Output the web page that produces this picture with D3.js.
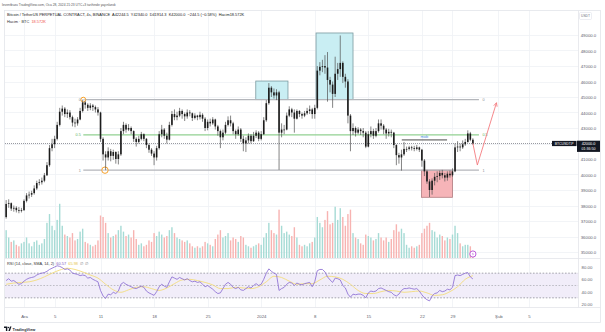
<!DOCTYPE html>
<html>
<head>
<meta charset="utf-8">
<script src="https://cdn.jsdelivr.net/npm/d3@7"></script>
<style>
  html, body { margin: 0; padding: 0; background: #fff; }
  svg { display: block; font-family: "Liberation Sans", Arial, sans-serif; }
</style>
</head>
<body>
<svg id="chart" width="605" height="332"></svg>
<script>
// ---- Data: BTCUSDT.P, 8-hour candles starting 28 Nov 2023 16:00 ----
const firstCandle = "2023-11-28T16:00";
const candleHours = 8;
const firstOpen = 37250;

const closes = [
  38100,
  38150, 37800, 37850,  37700, 37650, 37700,
  38300, 38650, 38700,  38800, 39100, 39450,  39500, 39600, 39950,  40600, 41700, 41950,
  42300, 43200, 44050,  44250, 43900, 44000,  43700, 43350, 43300,  43550, 44100, 44650,
  44500, 44300, 44450,  44350, 44200, 44000,  42300, 41300, 41100,  41500, 41200, 41450,
  41000, 41300, 42800,  43200, 42900, 43000,  42800, 42300, 42100,  42300, 42600, 42300,
  41900, 41600, 41350,  41100, 41700, 42600,  42900, 42500, 42250,  43200, 43900, 43700,
  43800, 44100, 43900,  43750, 44000, 43950,  43650, 43800, 43700,  43850, 43600, 43000,
  43400, 43300, 43550,  43100, 42800, 42400,  42700, 43200, 43500,  43300, 42800, 42600,
  42900, 42300, 42000,  42200, 42500, 42150,  42500, 42700, 42300,
  42600, 43500, 44600,  45600, 45300, 45100,  45300, 42700, 42900,  42900, 43800, 44200,
  44000, 43600, 44100,  43900, 43800, 43950,  44100, 44200, 43900,  44300, 46700, 46950,
  47000, 46900, 46100,  45800, 45200, 46500,  46800, 47200, 46300,  46000, 43800, 42800,
  43000, 42700, 42900,  42800, 42700, 41800,  42600, 42800, 42500,  42800, 43300, 43150,
  42900, 42650, 42750,  42700, 41900, 41250,  41100, 41300, 41650,  41650, 41750, 41700,
  41650, 41750, 41600,  40900, 40200, 39550,  39000, 39600, 39850,  39900, 40100, 39950,
  39800, 40050, 39950,  40200, 41750, 41800,  41750, 41950, 42100,  42650, 42244.5, 42000
];

const highs = [
  38350,
  38400, 38200, 38000,  37950, 37900, 37850,
  38400, 38800, 38900,  38950, 39300, 39600,  39700, 39800, 40100,  40800, 41900, 42300,
  42500, 43400, 44300,  44450, 44350, 44200,  44150, 43800, 43600,  43700, 44300, 44830,
  44750, 44600, 44600,  44550, 44450, 44350,  44050, 42400, 41500,  41750, 41650, 41600,
  41500, 41500, 43000,  43400, 43300, 43250,  43100, 42850, 42400,  42500, 42750, 42650,
  42350, 42000, 41700,  41500, 41850, 42800,  43200, 43000, 42700,  43400, 44100, 44200,
  44050, 44300, 44200,  44000, 44200, 44150,  44000, 43950, 43850,  44050, 43950, 43700,
  43550, 43600, 43700,  43600, 43200, 42900,  42900, 43400, 43750,  43800, 43400, 42900,
  43100, 43000, 42500,  42400, 42650, 42600,  42750, 42850, 42800,
  42800, 43700, 44800,  45900, 45700, 45550,  45500, 45400, 43300,  43200, 44000, 44400,
  44300, 44200, 44200,  44150, 44000, 44100,  44300, 44450, 44300,  44500, 47000, 47250,
  47400, 47700, 47900,  46300, 46000, 47600,  47200, 48970, 47300,  46500, 46150, 43900,
  43300, 43100, 43050,  43000, 43000, 42800,  42800, 43100, 42950,  43000, 43550, 43550,
  43250, 43000, 42950,  42900, 42750, 41950,  41400, 41600, 42100,  41800, 41850, 41850,
  41850, 41900, 41800,  41650, 41000, 40300,  39700, 39750, 40100,  40200, 40250, 40300,
  40100, 40200, 40250,  40400, 42000, 42150,  42000, 42200, 42300,  42850, 42750, 42340
];

const lows = [
  37150,
  37850, 37650, 37600,  37550, 37500, 37550,
  37650, 38200, 38450,  38550, 38700, 39000,  39300, 39350, 39500,  39900, 40500, 41500,
  41700, 42200, 43100,  43800, 43700, 43650,  43550, 43100, 43050,  43150, 43500, 44000,
  44250, 44100, 44150,  44100, 44000, 43800,  42100, 40900, 40280,  40900, 40850, 40950,
  40700, 40650, 41200,  42600, 42700, 42800,  42600, 42100, 41800,  42000, 42200, 42150,
  41700, 41400, 41200,  40600, 40900, 41600,  42400, 42300, 42000,  42200, 43100, 43500,
  43500, 43700, 43600,  43450, 43600, 43750,  43450, 43550, 43500,  43550, 43400, 42800,
  42850, 43100, 43200,  42900, 42500, 41700,  42200, 42600, 43100,  43100, 42600, 42300,
  42500, 42100, 41500,  41450, 42000, 42000,  42100, 42350, 42150,
  42200, 42550, 43400,  44500, 45000, 44900,  44800, 40300, 42400,  42600, 42850, 43700,
  43700, 42700, 43550,  43700, 43600, 43700,  43850, 43900, 43600,  43600, 44200, 46400,
  46600, 46500, 44700,  45300, 44300, 45000,  46100, 46300, 45900,  45600, 43300, 41500,
  42550, 42450, 42600,  42550, 42400, 41700,  41750, 42400, 42300,  42400, 42700, 42900,
  42600, 42300, 42450,  42400, 41700, 40600,  40700, 40250, 41200,  41450, 41550, 41550,
  41500, 41550, 41450,  40500, 39900, 39400,  38550, 38700, 39300,  39500, 39650, 39750,
  39550, 39600, 39800,  39850, 40150, 41450,  41500, 41650, 41850,  42050, 42150, 41914.3
];

// Volume per candle, thousands of BTC
const volumes = [
  95,
  70, 55, 60,  45, 40, 50,
  55, 70, 50,  40, 55, 60,  45, 50, 65,  120, 150, 110,
  95, 130, 185,  110, 80, 75,  70, 85, 60,  65, 90, 100,
  55, 50, 45,  40, 45, 60,  145, 140, 120,  85, 70, 75,
  80, 95, 110,  90, 75, 80,  70, 95, 65,  45, 50, 40,
  45, 60, 55,  85, 75, 90,  80, 70, 75,  95, 105, 85,
  70, 65, 60,  55, 60, 50,  40, 35, 40,  35, 40, 55,
  50, 45, 40,  65, 80, 95,  70, 75, 85,  60, 70, 65,
  55, 75, 70,  45, 40, 35,  40, 45, 50,
  45, 70, 85,  120, 95, 85,  80, 165, 110,  85, 90, 80,
  75, 105, 70,  45, 40, 45,  40, 50, 55,  70, 140, 120,
  105, 130, 160,  115, 120, 175,  130, 170, 140,  110, 150, 165,
  85, 70, 65,  50, 45, 80,  75, 70, 60,  65, 85, 70,
  60, 70, 55,  65, 95, 115,  90, 100, 85,  45, 35, 40,
  35, 40, 45,  85, 100, 110,  120, 95, 90,  70, 80, 75,
  60, 70, 65,  80, 110, 85,  50, 40, 45,  45, 40, 18.572
];

// RSI(14) per candle
const rsi = [
  58,
  61, 57, 58,  55, 52, 53,
  57, 60, 62,  63, 64, 67,  69, 70, 71,  73, 76, 78,
  80, 82, 81,  79, 76, 77,  75, 70, 69,  68, 66, 67,
  66, 62, 63,  60, 58, 56,  42, 33, 29,  36, 35, 39,
  37, 41, 52,  55, 52, 50,  48, 46, 45,  47, 49, 47,
  41, 38, 36,  34, 40, 48,  52, 49, 47,  56, 64, 62,
  60, 63, 61,  59, 61, 58,  56, 57, 55,  56, 52, 48,
  50, 47, 44,  40, 37, 38,  45, 52, 55,  52, 47, 45,
  47, 43, 42,  45, 48, 46,  50, 53, 50,
  52, 60, 70,  77, 73, 70,  68, 42, 45,  47, 52, 55,
  54, 50, 54,  52, 51, 53,  54, 55, 48,  56, 74, 76,
  76, 72, 64,  59, 55, 62,  61, 59, 50,  46, 36, 31,
  36, 35, 36,  36, 34, 30,  38, 41, 40,  41, 45, 46,
  44, 42, 40,  39, 35, 33,  36, 42, 45,  45, 46, 45,
  44, 45, 41,  35, 30, 27,  25, 33, 37,  38, 42, 40,
  41, 44, 43,  47, 66, 67,  66, 68, 70,  71, 64, 60.57
];

// RSI-based SMA, one value per day (taken at each day's last candle)
const rsiMa = [
  52, 54, 55,
  56, 59, 64, 70, 75, 78, 76, 72, 67, 62, 52, 43, 39, 43, 47, 48,
  45, 42, 46, 53, 59, 60, 58, 55, 51, 45, 45, 47, 46, 45, 48,
  56, 65, 63, 57, 52, 53, 53, 59, 65, 64, 60, 52, 42, 37, 37, 40,
  42, 41, 39, 40, 41, 38, 34, 35, 40, 48, 60, 65.98
];

// Axis ticks
const priceTicks = [49000, 48000, 47000, 46000, 45000, 44000, 43000, 42000,
                    41000, 40000, 39000, 38000, 37000, 36000, 35000];
const rsiTicks = [80, 60, 40, 20];
const timeTickLabels = ["Ara", "5", "11", "18", "25", "2024", "8", "15", "22", "29", "Şub", "5"];
const timeTickDates = ["2023-12-01", "2023-12-05", "2023-12-11", "2023-12-18", "2023-12-25",
                       "2024-01-01", "2024-01-08", "2024-01-15", "2024-01-22", "2024-01-26",
                       "2024-02-01", "2024-02-05"];

// Drawings
const fibStart = "2023-12-08T18:00", fibEnd = "2024-01-29T11:00";
const fibHigh = 44830, fibLow = 40280;
const zones = [
  { from: "2023-12-31T07:00", to: "2024-01-04T12:00", top: 46030, bottom: 44830, kind: "supply" },
  { from: "2024-01-08T04:00", to: "2024-01-13T00:00", top: 49130, bottom: 44830, kind: "supply" },
  { from: "2024-01-21T23:00", to: "2024-01-26T00:00", top: 40280, bottom: 38530, kind: "demand" }
];
const mobLine = { from: "2024-01-19T09:00", to: "2024-01-25T07:00", price: 42230, label: "mob" };
const pathTimes = ["2024-01-28T16:00", "2024-01-29T06:00", "2024-01-31T18:00"];
const pathPrices = [42000, 40610, 44630];

// ---- Layout ----
const svg = d3.select("#chart");
const L = 5, R = 578.5, TOP = 10.5, SPLIT = 258.5, RSI_BOTTOM = 307.5, BOTTOM = 322.5, FRAME_R = 600.5;
const parseDay = d3.utcParse("%Y-%m-%d");
const parseTime = d3.utcParse("%Y-%m-%dT%H:%M");

const x = d3.scaleUtc().domain([parseDay("2023-12-01"), parseDay("2024-02-05")]).range([24, 529]);
const y = d3.scaleLinear().domain([35000, 49000]).range([252, 35]);
const yVol = d3.scaleLinear().domain([0, 215]).range([258, 195]);
const yRsi = d3.scaleLinear().domain([20, 80]).range([304, 267]);

const t0 = parseTime(firstCandle).getTime();
const candles = closes.map((c, i) => ({
  t: new Date(t0 + i * candleHours * 3600e3),
  o: i === 0 ? firstOpen : closes[i - 1],
  h: highs[i], l: lows[i], c: c,
  v: volumes[i], r: rsi[i]
}));
const last = candles[candles.length - 1];

svg.append("rect").attr("width", 605).attr("height", 332).attr("fill", "#fff");

const defs = svg.append("defs");
defs.append("clipPath").attr("id", "pricePane")
  .append("rect").attr("x", L).attr("y", TOP).attr("width", R - L).attr("height", SPLIT - TOP);
defs.append("clipPath").attr("id", "rsiPane")
  .append("rect").attr("x", L).attr("y", SPLIT).attr("width", R - L).attr("height", RSI_BOTTOM - SPLIT);

// Grid
const grid = svg.append("g").attr("stroke", "#eff1f5").attr("stroke-width", 0.8);
timeTickDates.forEach(d => {
  const gx = Math.round(x(parseDay(d))) + 0.5;
  grid.append("line").attr("x1", gx).attr("x2", gx).attr("y1", TOP).attr("y2", RSI_BOTTOM);
});
priceTicks.forEach(p => {
  const gy = Math.round(y(p)) + 0.5;
  grid.append("line").attr("x1", L).attr("x2", R).attr("y1", gy).attr("y2", gy);
});

// Volume bars
const volG = svg.append("g").attr("clip-path", "url(#pricePane)");
volG.selectAll("rect").data(candles).join("rect")
  .attr("x", d => x(d.t) - 0.7)
  .attr("width", 1.4)
  .attr("y", d => yVol(d.v))
  .attr("height", d => yVol(0) - yVol(d.v))
  .attr("fill", d => d.c >= d.o ? "#a6dbd5" : "#f7b3b1");

// Zones (supply / demand boxes)
const zoneG = svg.append("g").attr("clip-path", "url(#pricePane)");
zones.forEach(z => {
  const x0 = x(parseTime(z.from)), x1 = x(parseTime(z.to));
  zoneG.append("rect")
    .attr("x", x0).attr("y", y(z.top))
    .attr("width", x1 - x0).attr("height", y(z.bottom) - y(z.top))
    .attr("fill", z.kind === "supply" ? "#c9eef3" : "#f6b4b8")
    .attr("stroke", z.kind === "supply" ? "#7b9aa0" : "#b07a7e")
    .attr("stroke-width", 0.8);
});

// Fibonacci retracement
const fibG = svg.append("g");
const fx0 = x(parseTime(fibStart)), fx1 = x(parseTime(fibEnd));
const fibLevels = [
  { lv: "0", p: fibHigh, color: "#b4b6bb", text: "#8a8d94" },
  { lv: "0.5", p: (fibHigh + fibLow) / 2, color: "#92d192", text: "#5fb35f" },
  { lv: "1", p: fibLow, color: "#b4b6bb", text: "#8a8d94" }
];
fibLevels.forEach(f => {
  const fy = y(f.p);
  fibG.append("line").attr("x1", fx0).attr("x2", fx1).attr("y1", fy).attr("y2", fy)
    .attr("stroke", f.color).attr("stroke-width", 1.1);
  fibG.append("text").attr("x", fx0 - 2.5).attr("y", fy + 1.4).attr("text-anchor", "end")
    .attr("font-size", 3.8).attr("fill", f.text).text(f.lv);
  fibG.append("text").attr("x", fx1 + 3.5).attr("y", fy + 1.4).attr("text-anchor", "start")
    .attr("font-size", 3.8).attr("fill", f.text).text(f.lv);
});

// Last price dotted line
svg.append("line")
  .attr("x1", L).attr("x2", 552).attr("y1", y(last.c)).attr("y2", y(last.c))
  .attr("stroke", "#8d8f96").attr("stroke-width", 0.9).attr("stroke-dasharray", "1,1");

// Candles
const candleG = svg.append("g").attr("clip-path", "url(#pricePane)");
candleG.selectAll("line").data(candles).join("line")
  .attr("x1", d => x(d.t)).attr("x2", d => x(d.t))
  .attr("y1", d => y(Math.max(d.h, d.o, d.c))).attr("y2", d => y(Math.min(d.l, d.o, d.c)))
  .attr("stroke", "#505050").attr("stroke-width", 0.7);
candleG.selectAll("rect").data(candles).join("rect")
  .attr("x", d => x(d.t) - 0.8).attr("width", 1.6)
  .attr("y", d => y(Math.max(d.o, d.c)))
  .attr("height", d => Math.max(0.7, Math.abs(y(d.o) - y(d.c))))
  .attr("fill", "#1c1c1c");

// Fib anchor handles
[[fibStart, fibHigh, 2.4], ["2023-12-11T14:00", fibLow, 3.2]].forEach(([t, p, r]) => {
  fibG.append("circle").attr("cx", x(parseTime(t))).attr("cy", y(p)).attr("r", r)
    .attr("fill", "rgba(255,255,255,0.35)").attr("stroke", "#f7a12a").attr("stroke-width", 1);
});

// "mob" level
const mx0 = x(parseTime(mobLine.from)), mx1 = x(parseTime(mobLine.to));
svg.append("line").attr("x1", mx0).attr("x2", mx1).attr("y1", y(mobLine.price)).attr("y2", y(mobLine.price))
  .attr("stroke", "#4a4a4a").attr("stroke-width", 1);
svg.append("text").attr("x", (mx0 + mx1) / 2).attr("y", y(mobLine.price) - 2.2)
  .attr("text-anchor", "middle").attr("font-size", 4).attr("fill", "#4a90e2").text(mobLine.label);

// Projected path with arrow
const pathPts = pathTimes.map((t, i) => [x(parseTime(t)), y(pathPrices[i])]);
svg.append("path").attr("d", d3.line()(pathPts))
  .attr("fill", "none").attr("stroke", "#f47c80").attr("stroke-width", 0.9);
{
  const [ax, ay] = pathPts[pathPts.length - 1], [bx, by] = pathPts[pathPts.length - 2];
  const ang = Math.atan2(ay - by, ax - bx), len = 4;
  const head = [[ax - len * Math.cos(ang - 0.45), ay - len * Math.sin(ang - 0.45)], [ax, ay],
                [ax - len * Math.cos(ang + 0.45), ay - len * Math.sin(ang + 0.45)]];
  svg.append("path").attr("d", d3.line()(head)).attr("fill", "none")
    .attr("stroke", "#f47c80").attr("stroke-width", 0.9);
}

// Event marker
const ev = svg.append("g").attr("transform", `translate(${x(last.t)},254)`);
ev.append("circle").attr("r", 3.1).attr("fill", "#fff").attr("stroke", "#b44bd6").attr("stroke-width", 0.9);
ev.append("path").attr("d", "M0.4,-1.8 L-1,0.3 L0.2,0.3 L-0.4,1.8 L1,-0.3 L-0.2,-0.3 Z").attr("fill", "#b44bd6");

// RSI pane
const rsiG = svg.append("g").attr("clip-path", "url(#rsiPane)");
rsiG.append("rect").attr("x", L).attr("width", R - L)
  .attr("y", yRsi(70)).attr("height", yRsi(30) - yRsi(70)).attr("fill", "#f1edf9");
[[70, "#8f8f99"], [50, "#b0b0b8"], [30, "#8f8f99"]].forEach(([v, c]) => {
  rsiG.append("line").attr("x1", L).attr("x2", R).attr("y1", yRsi(v)).attr("y2", yRsi(v))
    .attr("stroke", c).attr("stroke-width", 0.8).attr("stroke-dasharray", "1.6,1.6");
});
const maPts = rsiMa.map((v, k) => [x(candles[k === 0 ? 0 : Math.min(3 * k, candles.length - 1)].t), yRsi(v)]);
rsiG.append("path").attr("d", d3.line().curve(d3.curveMonotoneX)(maPts))
  .attr("fill", "none").attr("stroke", "#f3dc7c").attr("stroke-width", 0.9);
rsiG.append("path").attr("d", d3.line().x(d => x(d.t)).y(d => yRsi(d.r))(candles))
  .attr("fill", "none").attr("stroke", "#8c6fd3").attr("stroke-width", 0.85);

// Separators and frame
const sep = svg.append("g").attr("stroke", "#e3e5ea").attr("stroke-width", 0.8);
sep.append("line").attr("x1", L).attr("x2", FRAME_R).attr("y1", SPLIT).attr("y2", SPLIT);
sep.append("line").attr("x1", L).attr("x2", FRAME_R).attr("y1", RSI_BOTTOM).attr("y2", RSI_BOTTOM);
sep.append("line").attr("x1", R).attr("x2", R).attr("y1", TOP).attr("y2", RSI_BOTTOM);
svg.append("rect").attr("x", 4.5).attr("y", TOP).attr("width", FRAME_R - 4.5).attr("height", BOTTOM - TOP)
  .attr("fill", "none").attr("stroke", "#e3e5ea").attr("stroke-width", 0.8);

// Price axis
const fmt1 = d3.format(".1f");
const yAxisG = svg.append("g").attr("transform", "translate(580,0)")
  .call(d3.axisRight(y).tickValues(priceTicks).tickFormat(fmt1).tickSize(0).tickPadding(0));
yAxisG.attr("font-size", null).attr("font-family", null);
yAxisG.select(".domain").remove();
yAxisG.selectAll("text").attr("x", 8.5).attr("dy", "0.35em").attr("text-anchor", "middle")
  .attr("font-size", 4.3).attr("fill", "#5d606b");

// RSI axis
const rAxisG = svg.append("g").attr("transform", "translate(580,0)")
  .call(d3.axisRight(yRsi).tickValues(rsiTicks).tickFormat(d3.format(".2f")).tickSize(0).tickPadding(0));
rAxisG.attr("font-size", null).attr("font-family", null);
rAxisG.select(".domain").remove();
rAxisG.selectAll("text").attr("x", 7).attr("dy", "0.35em").attr("text-anchor", "middle")
  .attr("font-size", 4.3).attr("fill", "#5d606b");

// Time axis
const xAxisG = svg.append("g").attr("transform", `translate(0,${RSI_BOTTOM})`)
  .call(d3.axisBottom(x).tickValues(timeTickDates.map(parseDay))
    .tickFormat((d, i) => timeTickLabels[i]).tickSize(0).tickPadding(0));
xAxisG.attr("font-size", null).attr("font-family", null);
xAxisG.select(".domain").remove();
xAxisG.selectAll("text").attr("y", 10.2).attr("dy", null).attr("font-size", 4.3).attr("fill", "#5d606b");

// USDT badge
svg.append("rect").attr("x", 579.5).attr("y", 12.5).attr("width", 12).attr("height", 7)
  .attr("rx", 1).attr("fill", "#fff").attr("stroke", "#e0e3eb").attr("stroke-width", 0.6);
svg.append("text").attr("x", 585.5).attr("y", 17.3).attr("text-anchor", "middle")
  .attr("font-size", 3.3).attr("fill", "#6a6d78").text("USDT");

// Last price badges
const ly = y(last.c);
svg.append("rect").attr("x", 552).attr("y", ly - 2.6).attr("width", 24.5).attr("height", 5.2).attr("fill", "#131722");
svg.append("text").attr("x", 564.2).attr("y", ly + 1.2).attr("text-anchor", "middle")
  .attr("font-size", 3.4).attr("fill", "#fff").text("BTCUSDT.P");
svg.append("rect").attr("x", 577).attr("y", ly - 2.8).attr("width", 23).attr("height", 11.2).attr("fill", "#131722");
svg.append("text").attr("x", 588.5).attr("y", ly + 1.3).attr("text-anchor", "middle")
  .attr("font-size", 3.8).attr("fill", "#fff").text(fmt1(last.c));
svg.append("text").attr("x", 588.5).attr("y", ly + 6.7).attr("text-anchor", "middle")
  .attr("font-size", 3.6).attr("fill", "#fff").text("01:36:50");

// Header
svg.append("text").attr("x", 2).attr("y", 6.3).attr("font-size", 3.3).attr("fill", "#555")
  .text("leventbuzu TradingView.com, Oca 28, 2024 21:23 UTC+3 tarihinde yayınlandı");
const chg = last.c - last.o;
const fmtSigned = d3.format(".1f"), fmtPct = d3.format(".2f");
const legend = `Bitcoin / TetherUS PERPETUAL CONTRACT, 4s, BINANCE  A${fmt1(last.o)}  Y${fmt1(last.h)}  D${fmt1(last.l)}  K${fmt1(last.c)}  ${fmtSigned(chg)} (${fmtPct(chg / last.o * 100)}%)  Hacim${d3.format(".3f")(last.v)}K`;
svg.append("text").attr("x", 7).attr("y", 16.4).attr("font-size", 3.9).attr("fill", "#222")
  .attr("xml:space", "preserve").style("white-space", "pre").text(legend);
const volLegend = svg.append("text").attr("x", 7).attr("y", 23.2).attr("font-size", 3.9).attr("fill", "#333")
  .style("white-space", "pre");
volLegend.append("tspan").text("Hacim · BTC  ");
volLegend.append("tspan").attr("fill", "#ef5350").text(d3.format(".3f")(last.v) + "K");

// RSI legend
const rsiLegend = svg.append("text").attr("x", 7).attr("y", 265.4).attr("font-size", 3.9).attr("fill", "#333")
  .style("white-space", "pre");
rsiLegend.append("tspan").text("RSI (14, close, SMA, 14, 2)  ");
rsiLegend.append("tspan").attr("fill", "#7e57c2").text(fmtPct(last.r) + "  ");
rsiLegend.append("tspan").attr("fill", "#e6c84a").text(fmtPct(rsiMa[rsiMa.length - 1]) + "  ");
rsiLegend.append("tspan").attr("fill", "#777").text("∅  ∅");

// TradingView wordmark
const logo = svg.append("g").attr("fill", "#131722");
logo.append("path").attr("d", "M4,326.6 H7.3 V331 H5.9 V327.9 H4 Z");
logo.append("circle").attr("cx", 8.3).attr("cy", 327.4).attr("r", 0.75);
logo.append("path").attr("d", "M8.4,331 L10,326.6 H11.5 L9.9,331 Z");
svg.append("text").attr("x", 12.5).attr("y", 330.6).attr("font-size", 3.9).attr("font-weight", "bold")
  .attr("fill", "#2a2e39").text("TradingView");
</script>
</body>
</html>
